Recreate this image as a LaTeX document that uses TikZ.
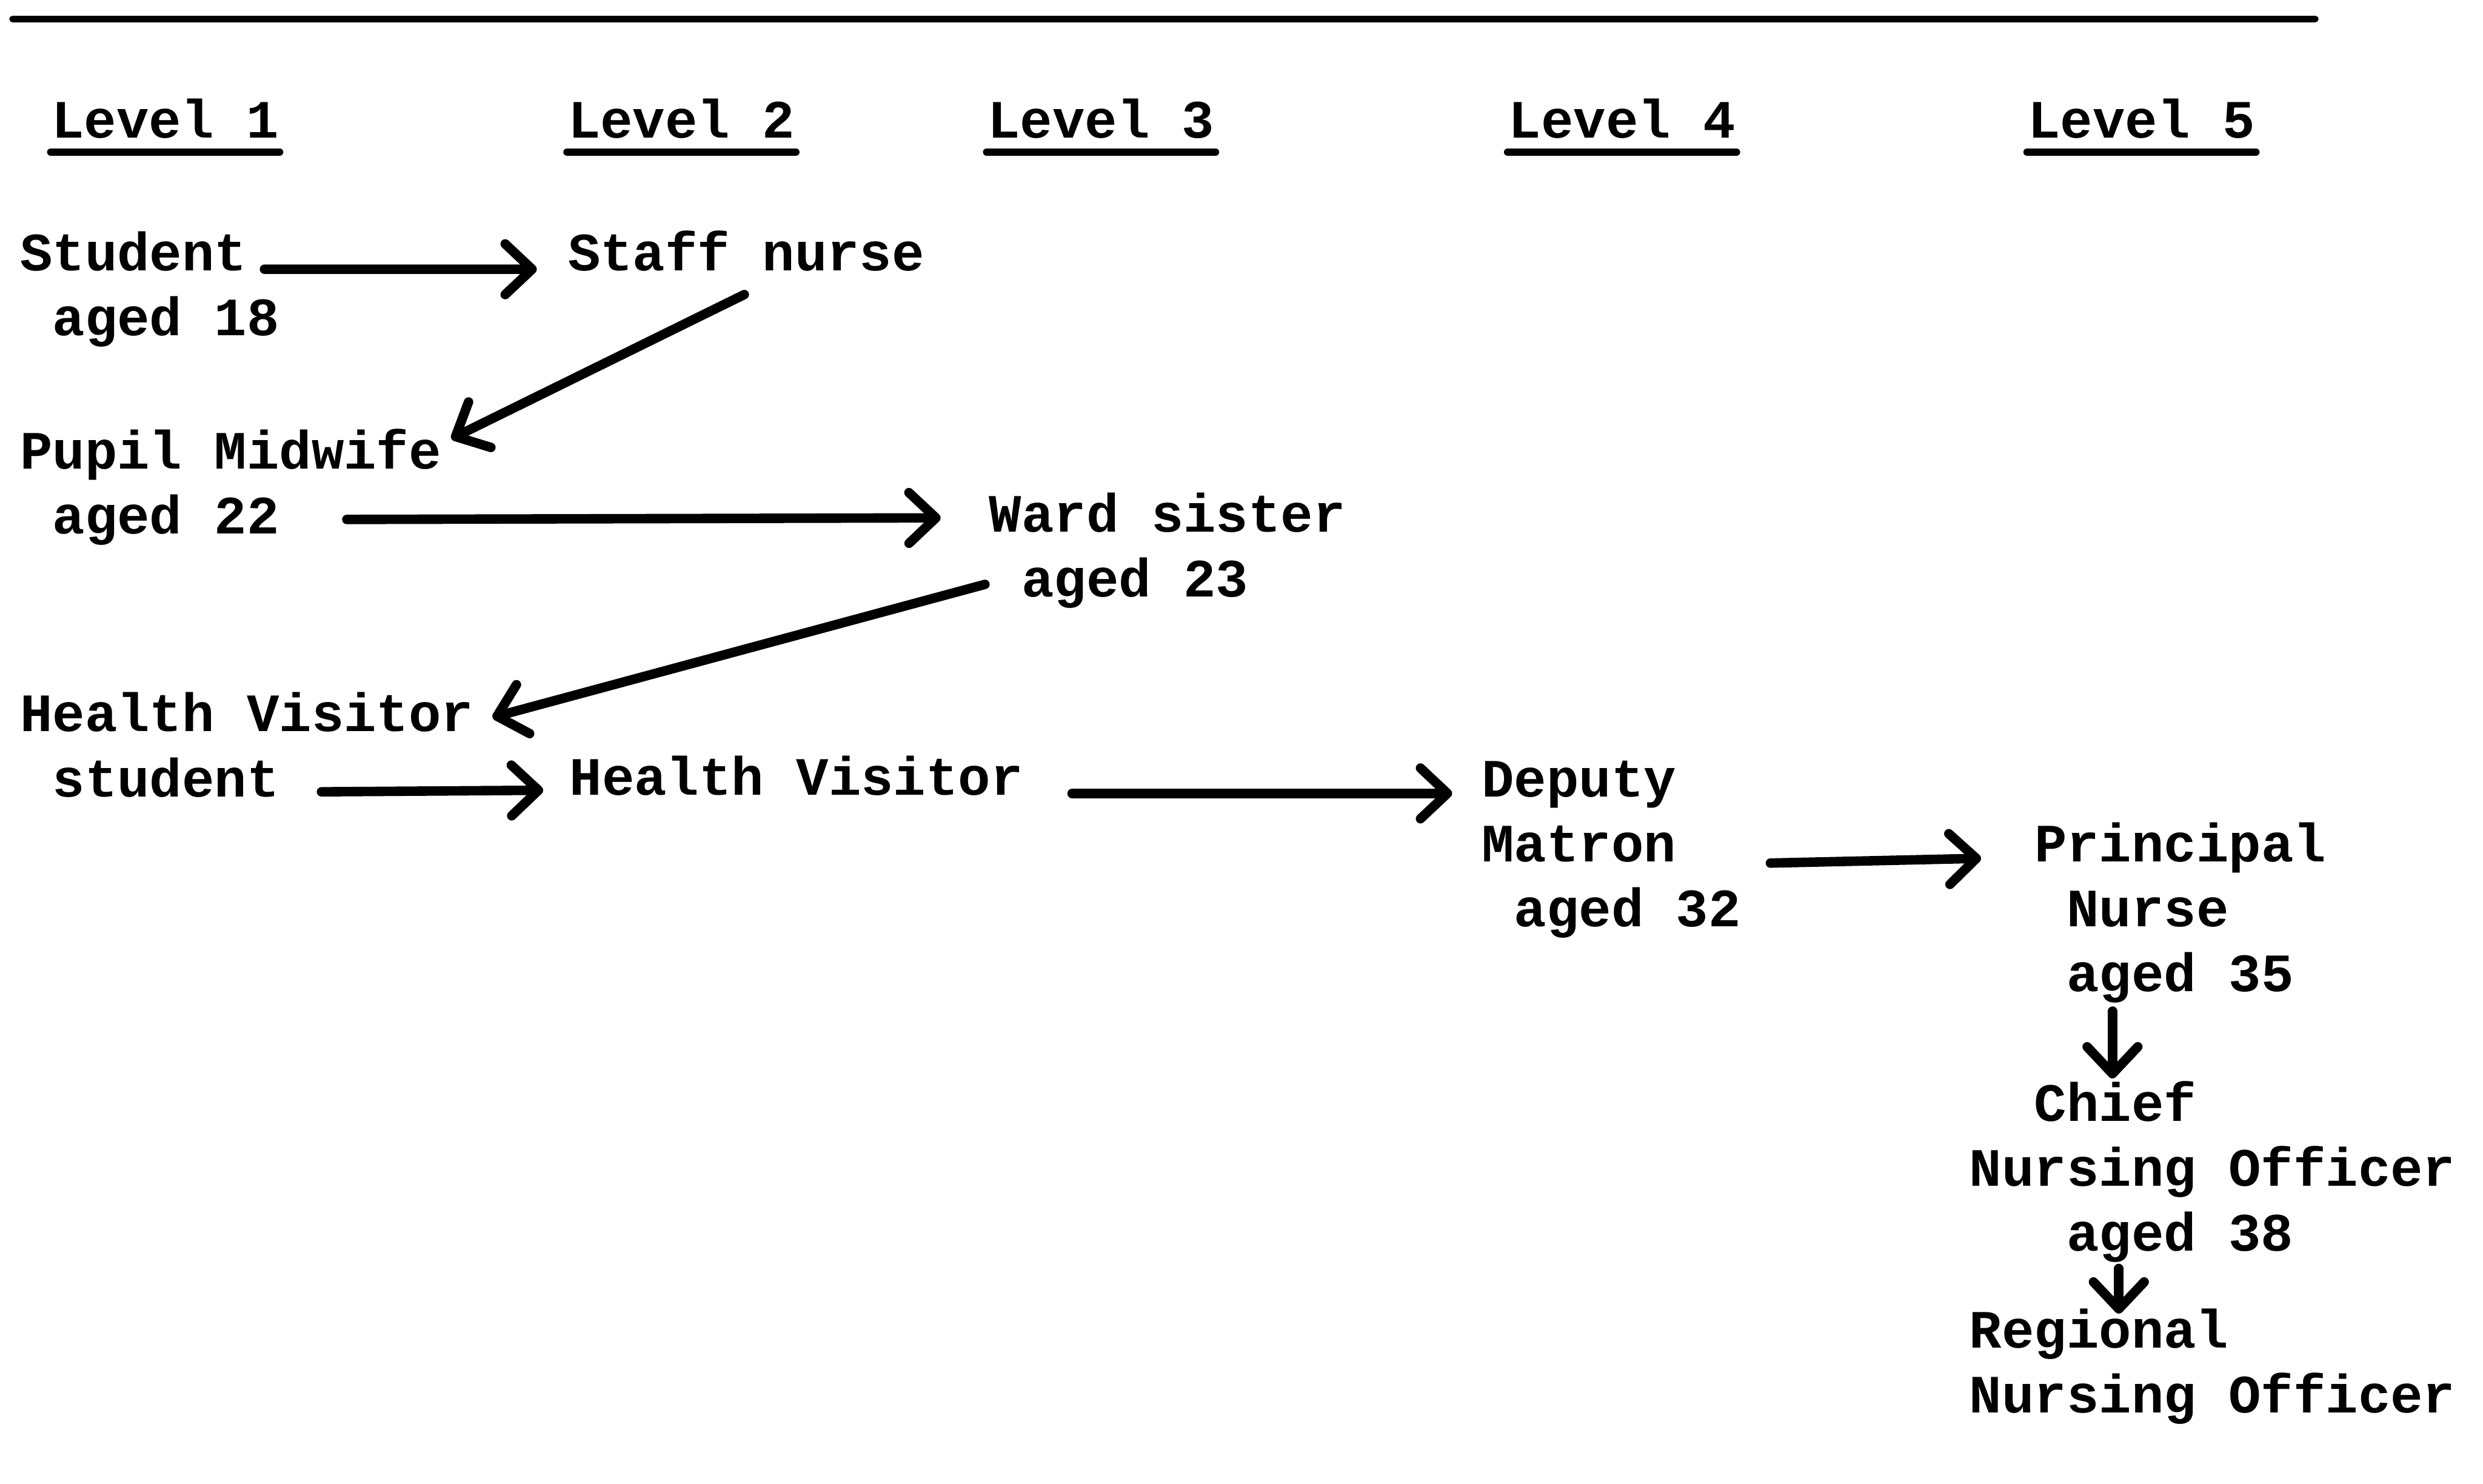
\documentclass[tikz,border=0pt]{standalone}
\usepackage{fontspec}
\setmainfont{Liberation Mono}
\usepackage{tikz}
\usetikzlibrary{arrows.meta,positioning}

\begin{document}
\begin{tikzpicture}[
    every node/.style={inner sep=0pt, align=left,
      font=\fontsize{9.7}{11.66}\selectfont\bfseries},
    lvl/.style={anchor=base west},
    post/.style={anchor=base west},
    uline/.style={line width=1.3pt, line cap=round},
    arr/.style={line width=1.7pt, line cap=round,
      -{Straight Barb[round,length=1.7mm,width=3.2mm]}}]
  \useasboundingbox (0,0) rectangle (15.68,-9.37);
  \draw[line width=1.2pt, line cap=round] (0.08,-0.12) -- (14.62,-0.12);

  % column headings
  \node[lvl] (lev1) at (0.32,-0.87) {Level 1};
  \node[lvl] (lev2) at (3.58,-0.87) {Level 2};
  \node[lvl] (lev3) at (6.23,-0.87) {Level 3};
  \node[lvl] (lev4) at (9.52,-0.87) {Level 4};
  \node[lvl] (lev5) at (12.80,-0.87) {Level 5};
  \foreach \n in {1,...,5}
    \draw[uline] ([yshift=-0.09cm]lev\n.base west) -- ([yshift=-0.09cm]lev\n.base east);

  % career steps (base = last line)
  \node[post] (student) at (0.12,-2.12) {Student\\~aged 18};
  \node[post] (staff) at (3.58,-1.71) {Staff nurse};
  \node[post] (pupil) at (0.12,-3.37) {Pupil Midwife\\~aged 22};
  \node[post] (ward) at (6.24,-3.77) {Ward sister\\~aged 23};
  \node[post] (hvstudent) at (0.12,-5.03) {Health Visitor\\~student};
  \node[post] (hv) at (3.59,-5.02) {Health Visitor};
  \node[post] (deputy) at (9.35,-5.85) {Deputy\\Matron\\~aged 32};
  \node[post] (principal) at (12.84,-6.26) {Principal\\~Nurse\\~aged 35};
  \node[post] (chief) at (12.43,-7.90) {~~Chief\\Nursing Officer\\~~~aged 38};
  \node[post] (regional) at (12.43,-8.92) {Regional\\Nursing Officer};

  \draw[arr] ([shift={(1.55,0.42)}]student.base west) -- ([shift={(-0.19,0.01)}]staff.base west);
  \draw[arr] ([shift={(1.12,-0.15)}]staff.base west) -- ([shift={(2.73,0.60)}]pupil.base west);
  \draw[arr] ([shift={(2.07,0.09)}]pupil.base west) -- ([shift={(-0.30,0.50)}]ward.base west);
  \draw[arr] ([shift={(-0.02,0.08)}]ward.base west) -- ([shift={(2.99,0.50)}]hvstudent.base west);
  \draw[arr] ([shift={(1.91,0.03)}]hvstudent.base west) -- ([shift={(-0.16,0.03)}]hv.base west);
  \draw[arr] ([shift={(3.18,0.01)}]hv.base west) -- ([shift={(-0.18,0.84)}]deputy.base west);
  \draw[arr] ([shift={(1.83,0.40)}]deputy.base west) -- ([shift={(-0.33,0.84)}]principal.base west);
  \draw[arr] ([shift={(0.50,-0.125)}]principal.base west) -- ([shift={(0.91,1.09)}]chief.base west);
  \draw[arr] ([shift={(0.95,-0.11)}]chief.base west) -- ([shift={(0.95,0.625)}]regional.base west);
\end{tikzpicture}
\end{document}
